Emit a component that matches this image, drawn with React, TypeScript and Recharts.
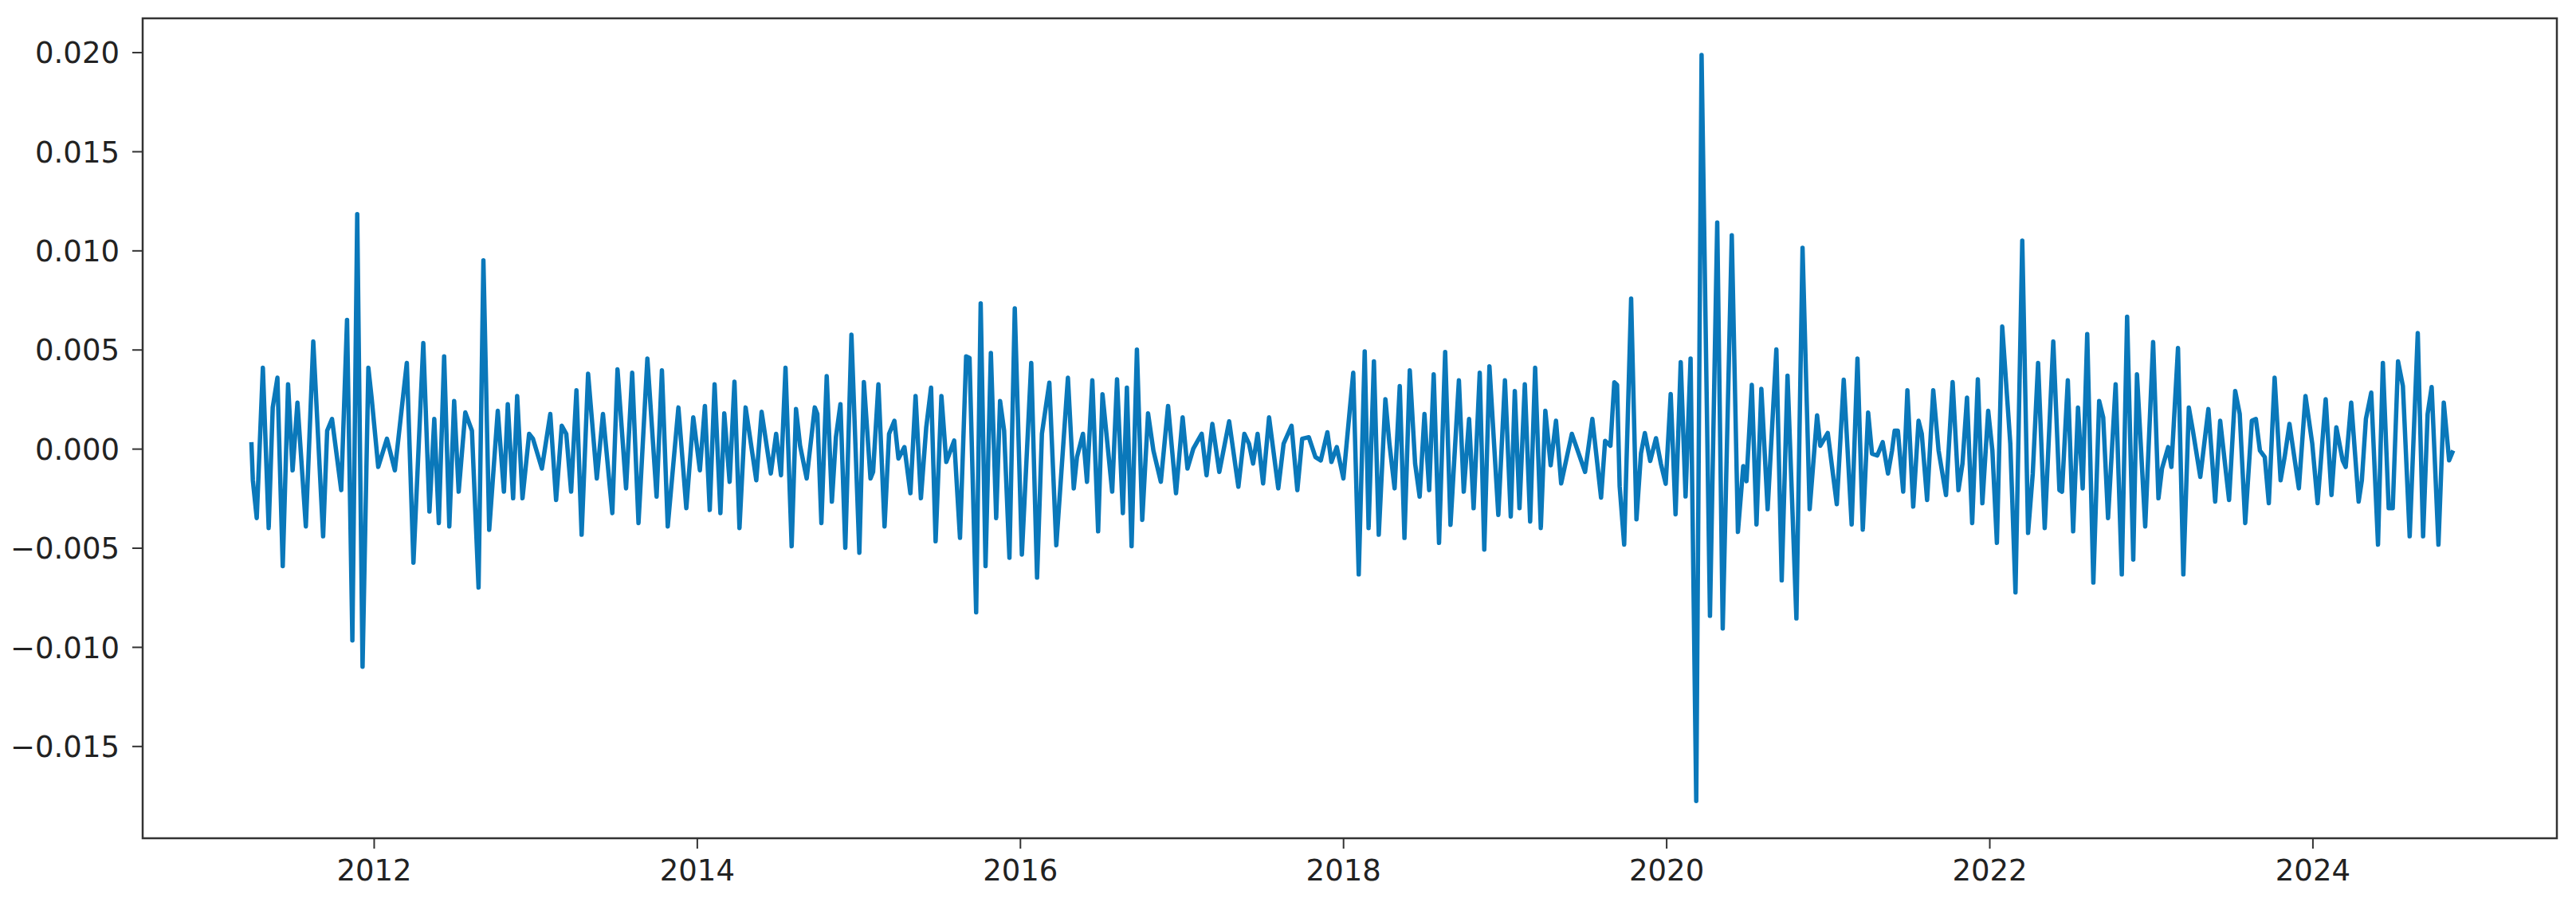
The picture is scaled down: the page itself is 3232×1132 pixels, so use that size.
import { LineChart, Line, XAxis, YAxis, ReferenceArea } from 'recharts';

// decimal year of each turning point of the series
const years = [
  2011.240, 2011.249, 2011.273, 2011.311, 2011.347, 2011.372, 2011.401, 2011.434, 2011.467, 2011.495,
  2011.525, 2011.577, 2011.623, 2011.684, 2011.709, 2011.739, 2011.796, 2011.832, 2011.865, 2011.895,
  2011.928, 2011.964, 2011.984, 2012.025, 2012.079, 2012.128, 2012.202, 2012.243, 2012.304, 2012.342,
  2012.372, 2012.400, 2012.433, 2012.465, 2012.495, 2012.523, 2012.564, 2012.605, 2012.646, 2012.676,
  2012.712, 2012.765, 2012.803, 2012.827, 2012.860, 2012.885,
  2012.918, 2012.959, 2012.983, 2013.038, 2013.090, 2013.126, 2013.161, 2013.189, 2013.219, 2013.252,
  2013.284, 2013.324, 2013.378, 2013.416, 2013.474, 2013.506, 2013.559, 2013.597, 2013.636, 2013.691,
  2013.748, 2013.781, 2013.817, 2013.883, 2013.932, 2013.975, 2014.016, 2014.047, 2014.077, 2014.107,
  2014.143, 2014.167, 2014.200, 2014.230, 2014.261, 2014.299, 2014.365, 2014.398, 2014.455, 2014.488,
  2014.518, 2014.546,
  2014.584, 2014.611, 2014.636, 2014.677, 2014.727, 2014.743, 2014.768, 2014.801, 2014.833, 2014.858,
  2014.886, 2014.916, 2014.954, 2015.003, 2015.031, 2015.072, 2015.088, 2015.121, 2015.159, 2015.187,
  2015.220, 2015.245, 2015.282, 2015.319, 2015.351, 2015.384, 2015.417, 2015.447, 2015.475, 2015.511,
  2015.541, 2015.590, 2015.626, 2015.664, 2015.685, 2015.726, 2015.754, 2015.784, 2015.817, 2015.850,
  2015.874, 2015.899, 2015.932, 2015.965, 2016.009, 2016.067, 2016.103, 2016.133, 2016.179, 2016.222,
  2016.294, 2016.330, 2016.350, 2016.387, 2016.412, 2016.445, 2016.481, 2016.508, 2016.568, 2016.598,
  2016.634, 2016.659, 2016.688, 2016.721, 2016.754, 2016.790, 2016.823, 2016.869, 2016.914, 2016.963,
  2017.004, 2017.034, 2017.070, 2017.122, 2017.152, 2017.188, 2017.231, 2017.292, 2017.349, 2017.386,
  2017.415, 2017.440, 2017.468, 2017.502, 2017.539, 2017.596, 2017.629, 2017.678, 2017.714, 2017.744,
  2017.785, 2017.826, 2017.859, 2017.900,
  2017.925, 2017.958, 2017.999, 2018.040, 2018.060, 2018.094, 2018.131, 2018.155, 2018.188, 2018.218,
  2018.259, 2018.284, 2018.316, 2018.348, 2018.377, 2018.410, 2018.443, 2018.471, 2018.501, 2018.530,
  2018.558, 2018.591, 2018.629, 2018.662, 2018.714, 2018.744, 2018.777, 2018.805, 2018.843, 2018.871,
  2018.903, 2018.958, 2018.999, 2019.035, 2019.060, 2019.089, 2019.122, 2019.155, 2019.186, 2019.221,
  2019.249, 2019.282, 2019.315, 2019.347, 2019.413, 2019.495, 2019.540, 2019.594,
  2019.619, 2019.652, 2019.676, 2019.693, 2019.709, 2019.737, 2019.780, 2019.813, 2019.841, 2019.865,
  2019.898, 2019.934, 2019.964, 2019.994, 2020.025, 2020.055, 2020.087, 2020.117, 2020.148, 2020.183,
  2020.216, 2020.268, 2020.313, 2020.347, 2020.403, 2020.441, 2020.474, 2020.494, 2020.527, 2020.556,
  2020.586, 2020.625, 2020.679, 2020.712, 2020.748, 2020.803, 2020.841, 2020.885, 2020.931, 2020.951,
  2020.997, 2021.053, 2021.096, 2021.145, 2021.181, 2021.214, 2021.247,
  2021.271, 2021.304, 2021.337, 2021.370, 2021.395, 2021.411, 2021.431, 2021.464, 2021.490, 2021.526,
  2021.559, 2021.579, 2021.612, 2021.650, 2021.683, 2021.729, 2021.770, 2021.806, 2021.831, 2021.859,
  2021.891, 2021.926, 2021.954, 2021.990, 2022.016, 2022.044, 2022.077, 2022.127, 2022.159, 2022.201,
  2022.237, 2022.266, 2022.299, 2022.340, 2022.393, 2022.431, 2022.447, 2022.483, 2022.516, 2022.546,
  2022.575, 2022.603, 2022.641, 2022.677, 2022.702, 2022.732, 2022.779, 2022.817, 2022.850, 2022.888,
  2022.911, 2022.962,
  2023.011, 2023.044, 2023.066, 2023.104, 2023.124, 2023.165, 2023.198, 2023.232, 2023.257, 2023.303,
  2023.353, 2023.395, 2023.426, 2023.481, 2023.519, 2023.547, 2023.581, 2023.622, 2023.647, 2023.672,
  2023.702, 2023.727, 2023.763, 2023.800, 2023.825, 2023.855, 2023.913, 2023.954, 2023.996, 2024.029,
  2024.079, 2024.115, 2024.145, 2024.184, 2024.203, 2024.237, 2024.283, 2024.303, 2024.328, 2024.361,
  2024.403, 2024.433, 2024.469, 2024.494, 2024.527, 2024.557, 2024.599, 2024.649, 2024.682, 2024.710,
  2024.735, 2024.777, 2024.810, 2024.843, 2024.868,
];

const values = [
  0.35e-3, -1.57e-3, -3.48e-3, 4.10e-3, -3.98e-3, 2.10e-3, 3.60e-3, -5.90e-3, 3.27e-3, -1.07e-3,
  2.35e-3, -3.90e-3, 5.43e-3, -4.40e-3, 0.93e-3, 1.52e-3, -2.07e-3, 6.52e-3, -9.65e-3, 11.85e-3,
  -10.98e-3, 4.10e-3, 2.60e-3, -0.90e-3, 0.52e-3, -1.07e-3, 4.35e-3, -5.73e-3, 5.35e-3, -3.15e-3,
  1.52e-3, -3.73e-3, 4.68e-3, -3.90e-3, 2.43e-3, -2.15e-3, 1.85e-3, 0.93e-3, -6.98e-3, 9.52e-3,
  -4.07e-3, 1.93e-3, -2.15e-3, 2.27e-3, -2.48e-3, 2.68e-3,
  -2.48e-3, 0.77e-3, 0.52e-3, -0.98e-3, 1.77e-3, -2.57e-3, 1.18e-3, 0.77e-3, -2.15e-3, 2.97e-3,
  -4.32e-3, 3.80e-3, -1.48e-3, 1.77e-3, -3.23e-3, 4.02e-3, -1.98e-3, 3.85e-3, -3.73e-3, 4.57e-3,
  -2.40e-3, 3.97e-3, -3.90e-3, 2.10e-3, -2.98e-3, 1.60e-3, -1.07e-3, 2.18e-3, -3.07e-3, 3.27e-3,
  -3.23e-3, 1.80e-3, -1.65e-3, 3.40e-3, -3.98e-3, 2.10e-3, -1.57e-3, 1.88e-3, -1.23e-3, 0.77e-3,
  -1.32e-3, 4.10e-3,
  -4.90e-3, 2.02e-3, 0.18e-3, -1.48e-3, 2.10e-3, 1.77e-3, -3.73e-3, 3.68e-3, -2.65e-3, 0.60e-3,
  2.27e-3, -4.98e-3, 5.77e-3, -5.23e-3, 3.38e-3, -1.48e-3, -1.15e-3, 3.27e-3, -3.90e-3, 0.77e-3,
  1.43e-3, -0.48e-3, 0.10e-3, -2.23e-3, 2.68e-3, -2.48e-3, 1.10e-3, 3.10e-3, -4.65e-3, 2.68e-3,
  -0.65e-3, 0.43e-3, -4.48e-3, 4.68e-3, 4.60e-3, -8.23e-3, 7.35e-3, -5.90e-3, 4.85e-3, -3.48e-3,
  2.43e-3, 0.93e-3, -5.48e-3, 7.10e-3, -5.32e-3, 4.35e-3, -6.48e-3, 0.77e-3, 3.35e-3, -4.85e-3,
  3.60e-3, -1.98e-3, -0.40e-3, 0.77e-3, -1.65e-3, 3.47e-3, -4.15e-3, 2.77e-3, -2.15e-3, 3.52e-3,
  -3.23e-3, 3.10e-3, -4.90e-3, 5.02e-3, -3.57e-3, 1.80e-3, -0.07e-3, -1.65e-3, 2.18e-3, -2.23e-3,
  1.60e-3, -0.98e-3, 0.02e-3, 0.77e-3, -1.32e-3, 1.27e-3, -1.15e-3, 1.40e-3, -1.90e-3, 0.77e-3,
  0.27e-3, -0.73e-3, 0.77e-3, -1.73e-3, 1.60e-3, -1.98e-3, 0.27e-3, 1.18e-3, -2.07e-3, 0.52e-3,
  0.60e-3, -0.40e-3, -0.57e-3, 0.85e-3,
  -0.65e-3, 0.10e-3, -1.48e-3, 2.10e-3, 3.85e-3, -6.32e-3, 4.93e-3, -3.98e-3, 4.43e-3, -4.32e-3,
  2.52e-3, 0.27e-3, -1.98e-3, 3.18e-3, -4.48e-3, 3.97e-3, -0.73e-3, -2.40e-3, 1.77e-3, -2.07e-3,
  3.77e-3, -4.73e-3, 4.90e-3, -3.82e-3, 3.47e-3, -2.15e-3, 1.52e-3, -2.98e-3, 3.85e-3, -5.07e-3,
  4.18e-3, -3.32e-3, 3.47e-3, -3.40e-3, 2.93e-3, -2.98e-3, 3.27e-3, -3.65e-3, 4.10e-3, -3.98e-3,
  1.93e-3, -0.82e-3, 1.43e-3, -1.73e-3, 0.77e-3, -1.15e-3, 1.52e-3, -2.45e-3,
  0.42e-3, 0.17e-3, 3.37e-3, 3.24e-3, -1.88e-3, -4.82e-3, 7.59e-3, -3.54e-3, -0.22e-3, 0.81e-3,
  -0.60e-3, 0.55e-3, -0.73e-3, -1.75e-3, 2.78e-3, -3.29e-3, 4.39e-3, -2.39e-3, 4.57e-3, -17.75e-3,
  19.88e-3, -8.41e-3, 11.43e-3, -9.05e-3, 10.79e-3, -4.18e-3, -0.86e-3, -1.62e-3, 3.24e-3, -3.80e-3,
  3.04e-3, -3.03e-3, 5.03e-3, -6.62e-3, 3.70e-3, -8.54e-3, 10.15e-3, -3.03e-3, 1.70e-3, 0.17e-3,
  0.81e-3, -2.78e-3, 3.50e-3, -3.80e-3, 4.57e-3, -4.06e-3, 1.84e-3,
  -0.23e-3, -0.32e-3, 0.35e-3, -1.23e-3, -0.07e-3, 0.93e-3, 0.93e-3, -2.15e-3, 2.97e-3, -2.90e-3,
  1.43e-3, 0.77e-3, -2.57e-3, 2.97e-3, -0.07e-3, -2.32e-3, 3.38e-3, -2.07e-3, -0.73e-3, 2.60e-3,
  -3.73e-3, 3.52e-3, -2.73e-3, 1.93e-3, -0.07e-3, -4.73e-3, 6.18e-3, 0.27e-3, -7.23e-3, 10.52e-3,
  -4.23e-3, -1.23e-3, 4.35e-3, -3.98e-3, 5.43e-3, -2.07e-3, -2.15e-3, 3.47e-3, -4.15e-3, 2.10e-3,
  -1.98e-3, 5.80e-3, -6.73e-3, 2.43e-3, 1.60e-3, -3.48e-3, 3.27e-3, -6.32e-3, 6.68e-3, -5.57e-3,
  3.77e-3, -3.90e-3,
  5.40e-3, -2.48e-3, -0.98e-3, 0.10e-3, -0.90e-3, 5.10e-3, -6.32e-3, 2.10e-3, 0.93e-3, -1.40e-3,
  2.02e-3, -2.65e-3, 1.43e-3, -2.57e-3, 2.93e-3, 1.77e-3, -3.73e-3, 1.43e-3, 1.52e-3, -0.07e-3,
  -0.40e-3, -2.73e-3, 3.60e-3, -1.57e-3, -0.40e-3, 1.27e-3, -1.98e-3, 2.68e-3, 0.27e-3, -2.73e-3,
  2.52e-3, -2.32e-3, 1.10e-3, -0.57e-3, -0.90e-3, 2.35e-3, -2.65e-3, -1.57e-3, 1.52e-3, 2.85e-3,
  -4.82e-3, 4.35e-3, -2.98e-3, -2.98e-3, 4.43e-3, 3.18e-3, -4.40e-3, 5.85e-3, -4.40e-3, 1.77e-3,
  3.13e-3, -4.82e-3, 2.35e-3, -0.57e-3, -0.07e-3,
];

const xTicks = [2012, 2014, 2016, 2018, 2020, 2022, 2024];
const yTicks = [-0.015, -0.01, -0.005, 0, 0.005, 0.01, 0.015, 0.02];

const X_DOMAIN: [number, number] = [2010.567, 2025.51];
const Y_DOMAIN: [number, number] = [-0.01963, 0.02173];

const data = years.map((year, i) => ({ year, value: values[i] }));

const AXIS = '#333333';
const LINE = '#0a78ba';
const font = { fontFamily: 'DejaVu Sans', fontSize: 37, fill: '#222222' };

const fmtY = (v: number) => (v < 0 ? '\u2212' : '') + Math.abs(v).toFixed(3);

export default function App() {
  return (
    <div style={{ position: 'absolute', left: 0, top: 0, background: '#fff' }}>
      <LineChart width={3232} height={1132} data={data} margin={{ top: 23, right: 24, bottom: 0, left: 0 }}>
        <XAxis
          dataKey="year"
          type="number"
          domain={X_DOMAIN}
          allowDataOverflow
          ticks={xTicks}
          tickFormatter={(v: number) => String(v)}
          axisLine={false}
          tickLine={{ stroke: AXIS, strokeWidth: 2 }}
          tickSize={13}
          tickMargin={14}
          height={80}
          tick={font}
        />
        <YAxis
          type="number"
          domain={Y_DOMAIN}
          allowDataOverflow
          ticks={yTicks}
          tickFormatter={fmtY}
          axisLine={false}
          tickLine={{ stroke: AXIS, strokeWidth: 2 }}
          tickSize={13}
          tickMargin={16}
          width={179}
          tick={font}
        />
        <Line
          type="linear"
          dataKey="value"
          stroke={LINE}
          strokeWidth={5.5}
          strokeLinejoin="round"
          dot={false}
          activeDot={false}
          isAnimationActive={false}
        />
        <ReferenceArea
          x1={X_DOMAIN[0]}
          x2={X_DOMAIN[1]}
          y1={Y_DOMAIN[0]}
          y2={Y_DOMAIN[1]}
          fill="none"
          stroke={AXIS}
          strokeWidth={2.5}
          ifOverflow="visible"
        />
      </LineChart>
    </div>
  );
}
